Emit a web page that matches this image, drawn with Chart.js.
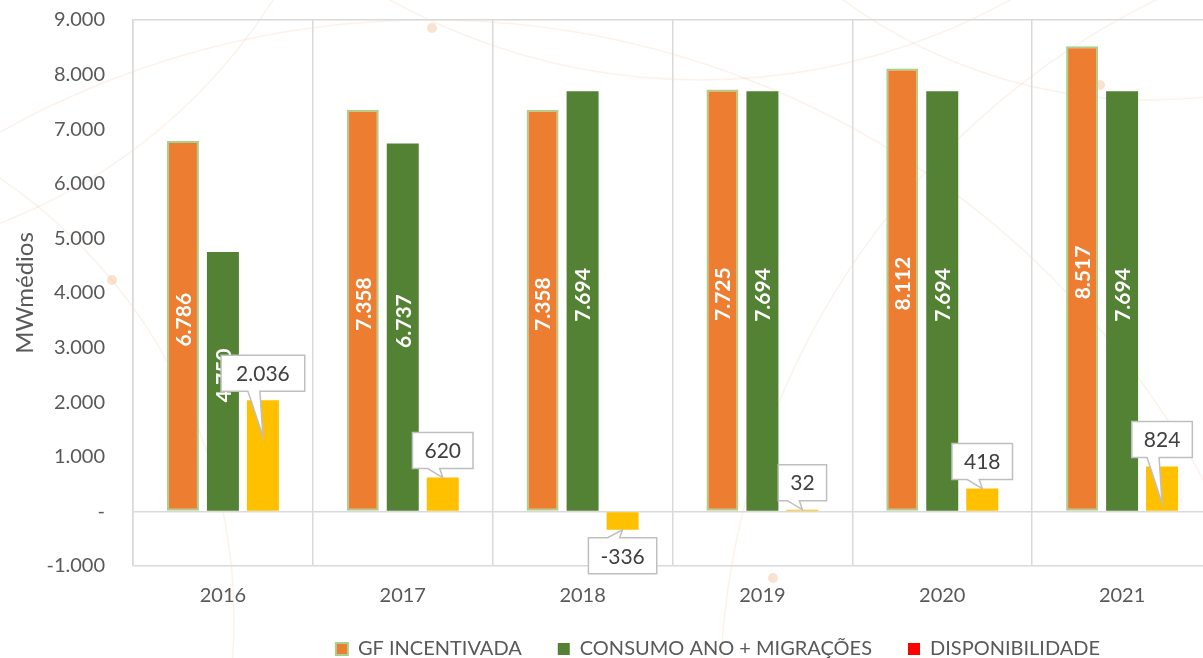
<!DOCTYPE html>
<html>
<head>
<meta charset="utf-8">
<script src="https://cdn.jsdelivr.net/npm/chart.js@4.4.1/dist/chart.umd.min.js"></script>
<style>
  html, body { margin: 0; padding: 0; overflow: hidden; background: #fff; }
  #wrap { width: 1220px; height: 658px; }
</style>
</head>
<body>
<div id="wrap"><canvas id="chart" width="1220" height="658"></canvas></div>
<script>
// --- Data ---
const categories = ['2016', '2017', '2018', '2019', '2020', '2021'];
const gfIncentivada = [6786, 7358, 7358, 7725, 8112, 8517];
const consumoAno = [4750, 6737, 7694, 7694, 7694, 7694];
const disponibilidade = [2036, 620, -336, 32, 418, 824];
const seriesNames = ['GF INCENTIVADA', 'CONSUMO ANO + MIGRAÇÕES', 'DISPONIBILIDADE'];

const FONT = "Lato, 'Open Sans', sans-serif";
const GRAY = '#595959';
const GRID = '#d9d9d9';

// pt-BR style thousands
function fmt(v) {
    const s = String(Math.abs(v)).replace(/\B(?=(\d{3})+(?!\d))/g, '.');
    return (v < 0 ? '-' : '') + s;
}

// --- faint decorative background ---
const backgroundPlugin = {
    id: 'bgDeco',
    beforeDraw(chart) {
        const ctx = chart.ctx;
        ctx.save();
        ctx.fillStyle = '#ffffff';
        ctx.fillRect(0, 0, chart.width, chart.height);
        ctx.strokeStyle = 'rgba(237,170,120,0.15)';
        ctx.lineWidth = 1.5;
        const arcs = [
            [-300, 620, 534], [700, -560, 640], [1500, 700, 780],
            [430, 900, 880], [-200, -300, 560], [1150, -420, 520]
        ];
        arcs.forEach(a => { ctx.beginPath(); ctx.arc(a[0], a[1], a[2], 0, Math.PI * 2); ctx.stroke(); });
        ctx.fillStyle = 'rgba(245,190,150,0.45)';
        [[432, 28], [112, 280], [1100, 85], [773, 578]].forEach(p => {
            ctx.beginPath(); ctx.arc(p[0], p[1], 5, 0, Math.PI * 2); ctx.fill();
        });
        ctx.restore();
    }
};

// legend box: keep the wide item spacing but a shorter block, sitting right of centre
const legendFitPlugin = {
    id: 'legendFit',
    afterInit(chart) {
        const lg = chart.legend;
        if (!lg) return;
        const orig = lg.fit.bind(lg);
        lg.fit = function () { orig(); this.height = 55; };
    },
    afterLayout(chart) {
        const lg = chart.legend;
        if (!lg) return;
        lg.left += 108;
        lg.right += 108;
    }
};

// --- value labels and callouts ---
const calloutTipDepth = [36, 0, 0, 0, 0, 37];
const labelPlugin = {
    id: 'valueLabels',
    afterDatasetsDraw(chart) {
        const ctx = chart.ctx;
        ctx.save();
        // vertical white labels inside orange and green bars
        [0, 1].forEach(di => {
            chart.getDatasetMeta(di).data.forEach((bar, i) => {
                const v = chart.data.datasets[di].data[i];
                const cy = (bar.y + bar.base) / 2;
                ctx.save();
                ctx.translate(bar.x, cy);
                ctx.rotate(-Math.PI / 2);
                ctx.font = "bold 21px " + FONT;
                ctx.fillStyle = '#ffffff';
                ctx.textAlign = 'center';
                ctx.textBaseline = 'middle';
                ctx.fillText(fmt(v), 6, 1);
                ctx.restore();
            });
        });
        // callouts for the yellow series
        chart.getDatasetMeta(2).data.forEach((bar, i) => {
            const v = chart.data.datasets[2].data[i];
            const txt = fmt(v);
            ctx.font = "21px " + FONT;
            const w = ctx.measureText(txt).width + (txt.length > 4 ? 30 : 24);
            const h = 36;
            const cx = bar.x;
            let top, tipY, baseY;
            if (v >= 0) {
                const barTop = Math.min(bar.y, bar.base);
                baseY = barTop - 9;
                top = baseY - h;
                tipY = barTop + calloutTipDepth[i];
            } else {
                const barBot = Math.max(bar.y, bar.base);
                top = barBot + 8;
                baseY = top;
                tipY = barBot;
            }
            const left = cx - w / 2;
            ctx.beginPath();
            if (v >= 0) {
                ctx.moveTo(left, top);
                ctx.lineTo(left + w, top);
                ctx.lineTo(left + w, baseY);
                ctx.lineTo(cx - 3, baseY);
                ctx.lineTo(cx, tipY);
                ctx.lineTo(cx - 15, baseY);
                ctx.lineTo(left, baseY);
                ctx.closePath();
            } else {
                ctx.moveTo(left, top);
                ctx.lineTo(cx - 15, top);
                ctx.lineTo(cx, tipY);
                ctx.lineTo(cx - 3, top);
                ctx.lineTo(left + w, top);
                ctx.lineTo(left + w, top + h);
                ctx.lineTo(left, top + h);
                ctx.closePath();
            }
            ctx.fillStyle = '#ffffff';
            ctx.fill();
            ctx.strokeStyle = '#bfbfbf';
            ctx.lineWidth = 1.5;
            ctx.stroke();
            ctx.fillStyle = '#404040';
            ctx.textAlign = 'center';
            ctx.textBaseline = 'middle';
            ctx.fillText(txt, cx, top + h / 2 + 1);
        });
        ctx.restore();
    }
};

const legendFill = ['#ED7D31', '#548235', '#FF0000'];
const legendStroke = ['#A9D18E', '#548235', '#FF0000'];

new Chart(document.getElementById('chart'), {
    type: 'bar',
    data: {
        labels: categories,
        datasets: [
            { label: seriesNames[0], data: gfIncentivada, backgroundColor: '#ED7D31',
              borderColor: '#A9D18E', borderWidth: 2, borderSkipped: false },
            { label: seriesNames[1], data: consumoAno, backgroundColor: '#548235' },
            { label: seriesNames[2], data: disponibilidade, backgroundColor: '#FFC000' }
        ]
    },
    options: {
        responsive: false,
        animation: false,
        devicePixelRatio: 1,
        categoryPercentage: 0.667,
        barPercentage: 0.8,
        layout: { padding: { left: 8, right: 8, top: 20, bottom: 0 } },
        scales: {
            x: {
                grid: { offset: true, color: GRID, lineWidth: 1.5, drawTicks: false },
                border: { display: false },
                ticks: { color: GRAY, font: { family: FONT, size: 20 }, padding: 18 },
                afterFit: s => { s.height = 37; }
            },
            y: {
                min: -1000,
                max: 9000,
                grid: {
                    drawTicks: true,
                    tickLength: 24,
                    tickColor: 'rgba(0,0,0,0)',
                    lineWidth: 1.5,
                    color: c => ([9000, 0, -1000].includes(c.tick.value) ? GRID : 'rgba(0,0,0,0)')
                },
                border: { display: true, color: GRID, width: 1.5 },
                ticks: {
                    stepSize: 1000,
                    color: GRAY,
                    padding: 4,
                    font: { family: FONT, size: 20 },
                    callback: v => (v === 0 ? '-' : fmt(v))
                },
                title: {
                    display: true,
                    text: 'MWmédios',
                    color: GRAY,
                    font: { family: FONT, size: 24 },
                    padding: { top: 3, bottom: 6 }
                },
                afterFit: s => { s.width = 125; }
            }
        },
        plugins: {
            tooltip: { enabled: false },
            legend: {
                position: 'bottom',
                labels: {
                    boxWidth: 12,
                    boxHeight: 12,
                    padding: 36,
                    color: GRAY,
                    font: { family: FONT, size: 20 },
                    generateLabels: chart => chart.data.datasets.map((ds, i) => ({
                        text: ds.label,
                        fillStyle: legendFill[i],
                        strokeStyle: legendStroke[i],
                        lineWidth: i === 0 ? 2 : 0,
                        fontColor: GRAY,
                        hidden: false,
                        datasetIndex: i
                    }))
                }
            }
        }
    },
    plugins: [backgroundPlugin, legendFitPlugin, labelPlugin]
});
</script>
</body>
</html>
